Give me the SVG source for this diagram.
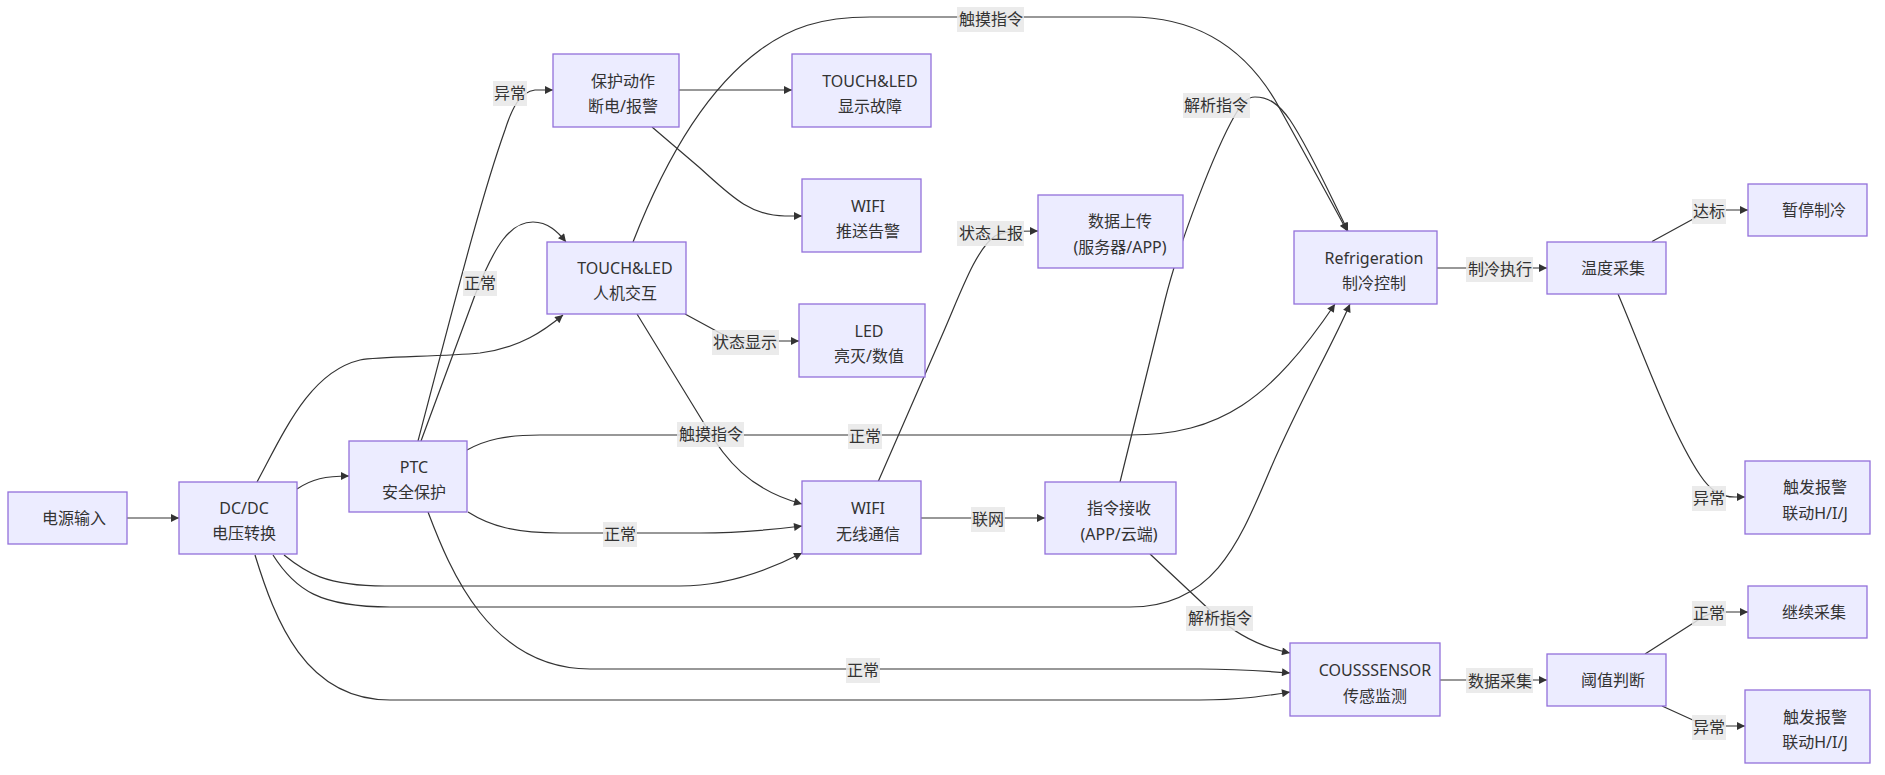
<svg xmlns="http://www.w3.org/2000/svg" width="1885" height="775" viewBox="0 0 1885 775">
<style>
.node rect{fill:#ECECFF;stroke:#9370DB;stroke-width:1.3}
.node text{font-family:"Noto Sans","Noto Sans CJK SC",sans-serif;font-size:16px;fill:#333;text-anchor:middle;dominant-baseline:central}
.edge{fill:none;stroke:#333;stroke-width:1.2;marker-end:url(#arrow)}
.lbl rect{fill:#e8e8e8;fill-opacity:0.85}
.lbl text{font-family:"Noto Sans","Noto Sans CJK SC",sans-serif;font-size:16px;fill:#333;text-anchor:middle;dominant-baseline:central}
</style>
<defs>
<marker id="arrow" viewBox="0 0 10 10" refX="10" refY="5" markerWidth="9" markerHeight="8" markerUnits="userSpaceOnUse" orient="auto">
<path d="M0,0 L10,5 L0,10 z" fill="#333"/>
</marker>
</defs>
<rect width="1885" height="775" fill="#fff"/>
<g id="connectors">
<path class="edge" d="M127,518 L179,518"/>
<path class="edge" d="M297,489 C312,479 325,476 349,476"/>
<path class="edge" d="M257,482 C285,430 310,372 360,360 C380,356 440,357 480,353 C520,348 545,330 563,315"/>
<path class="edge" d="M284,555 C305,572 325,586 385,586 L680,586 C725,586 765,572 802,553"/>
<path class="edge" d="M273,555 C295,590 320,607 390,607 L1130,607 C1215,607 1240,540 1270,470 C1300,400 1330,350 1350,304"/>
<path class="edge" d="M255,555 C275,620 305,700 390,700 L1200,700 C1240,700 1265,696 1290,692"/>
<path class="edge" d="M418,441 C450,320 480,200 505,130 C512,108 520,92 535,90 L553,90"/>
<path class="edge" d="M421,441 L475,295 C495,245 510,222 533,222 C548,222 558,232 566,242"/>
<path class="edge" d="M467,450 C485,440 505,435 540,435 L1130,435 C1220,435 1270,400 1335,304"/>
<path class="edge" d="M468,512 C490,526 515,533 560,533 L700,533 C740,533 770,530 802,526"/>
<path class="edge" d="M428,512 C450,570 490,669 590,669 L1200,669 C1240,669 1265,671 1290,673"/>
<path class="edge" d="M679,90 L792,90"/>
<path class="edge" d="M652,127 L700,168 C730,195 750,216 785,216 L802,216"/>
<path class="edge" d="M633,242 C665,160 705,90 760,50 C790,28 820,17 870,17 L1130,17 C1200,17 1245,50 1275,100 C1300,145 1325,190 1347,231"/>
<path class="edge" d="M685,314 L720,333 C730,339 740,341 755,341 L799,341"/>
<path class="edge" d="M637,314 L705,425 C725,460 750,490 802,504"/>
<path class="edge" d="M878,482 L940,340 C960,295 975,250 995,236 C1005,231 1015,231 1038,231"/>
<path class="edge" d="M921,518 L1045,518"/>
<path class="edge" d="M1120,482 L1165,300 C1180,240 1215,150 1235,115 C1242,103 1247,97 1255,97 C1268,97 1278,103 1290,120 C1310,150 1330,195 1348,231"/>
<path class="edge" d="M1150,554 L1215,615 C1240,638 1265,648 1290,653"/>
<path class="edge" d="M1437,268 L1547,268"/>
<path class="edge" d="M1440,680 L1547,680"/>
<path class="edge" d="M1652,241.5 L1695,218 C1703,213 1712,210 1725,210 L1748,210"/>
<path class="edge" d="M1618,294 C1640,345 1670,430 1700,475 C1710,490 1720,497 1735,497 L1745,497"/>
<path class="edge" d="M1645,654 L1695,622 C1705,615 1712,612 1725,612 L1748,612"/>
<path class="edge" d="M1662,706 L1695,721 C1705,725 1712,726 1725,726 L1745,726"/>
</g>
<g id="edge-labels">
<g class="lbl"><rect x="493" y="81" width="34" height="25"/><text x="510" y="93">异常</text></g>
<g class="lbl"><rect x="463" y="271" width="34" height="25"/><text x="480" y="283">正常</text></g>
<g class="lbl"><rect x="957" y="7" width="67" height="25"/><text x="991" y="19">触摸指令</text></g>
<g class="lbl"><rect x="712" y="330" width="67" height="25"/><text x="745" y="342">状态显示</text></g>
<g class="lbl"><rect x="677" y="422" width="67" height="25"/><text x="711" y="434">触摸指令</text></g>
<g class="lbl"><rect x="848" y="424" width="34" height="25"/><text x="865" y="436">正常</text></g>
<g class="lbl"><rect x="603" y="522" width="34" height="25"/><text x="620" y="534">正常</text></g>
<g class="lbl"><rect x="846" y="658" width="34" height="25"/><text x="863" y="670">正常</text></g>
<g class="lbl"><rect x="957" y="221" width="67" height="25"/><text x="991" y="233">状态上报</text></g>
<g class="lbl"><rect x="971" y="507" width="34" height="25"/><text x="988" y="519">联网</text></g>
<g class="lbl"><rect x="1183" y="93" width="67" height="25"/><text x="1216" y="105">解析指令</text></g>
<g class="lbl"><rect x="1186" y="606" width="67" height="25"/><text x="1220" y="618">解析指令</text></g>
<g class="lbl"><rect x="1466" y="257" width="67" height="25"/><text x="1500" y="269">制冷执行</text></g>
<g class="lbl"><rect x="1466" y="668" width="67" height="25"/><text x="1500" y="681">数据采集</text></g>
<g class="lbl"><rect x="1692" y="199" width="34" height="25"/><text x="1709" y="211">达标</text></g>
<g class="lbl"><rect x="1692" y="486" width="34" height="25"/><text x="1709" y="498">异常</text></g>
<g class="lbl"><rect x="1692" y="601" width="34" height="25"/><text x="1709" y="613">正常</text></g>
<g class="lbl"><rect x="1692" y="715" width="34" height="25"/><text x="1709" y="727">异常</text></g>
</g>
<g id="n_power" class="node"><rect x="8" y="492" width="119" height="52"/><text x="74" y="518">电源输入</text></g>
<g id="n_dcdc" class="node"><rect x="179" y="482" width="118" height="72"/><text x="244" y="508">DC/DC</text><text x="244" y="533">电压转换</text></g>
<g id="n_ptc" class="node"><rect x="349" y="441" width="118" height="71"/><text x="414" y="467">PTC</text><text x="414" y="492">安全保护</text></g>
<g id="n_protect" class="node"><rect x="553" y="54" width="126" height="73"/><text x="623" y="81">保护动作</text><text x="623" y="106">断电/报警</text></g>
<g id="n_touchfault" class="node"><rect x="792" y="54" width="139" height="73"/><text x="870" y="81">TOUCH&amp;LED</text><text x="870" y="106">显示故障</text></g>
<g id="n_wifialarm" class="node"><rect x="802" y="179" width="119" height="73"/><text x="868" y="206">WIFI</text><text x="868" y="231">推送告警</text></g>
<g id="n_touch" class="node"><rect x="547" y="242" width="139" height="72"/><text x="625" y="268">TOUCH&amp;LED</text><text x="625" y="293">人机交互</text></g>
<g id="n_led" class="node"><rect x="799" y="304" width="126" height="73"/><text x="869" y="331">LED</text><text x="869" y="356">亮灭/数值</text></g>
<g id="n_wifi" class="node"><rect x="802" y="481" width="119" height="73"/><text x="868" y="508">WIFI</text><text x="868" y="534">无线通信</text></g>
<g id="n_upload" class="node"><rect x="1038" y="195" width="145" height="73"/><text x="1120" y="221">数据上传</text><text x="1120" y="247">(服务器/APP)</text></g>
<g id="n_cmd" class="node"><rect x="1045" y="482" width="131" height="72"/><text x="1119" y="508">指令接收</text><text x="1119" y="534">(APP/云端)</text></g>
<g id="n_refrig" class="node"><rect x="1294" y="231" width="143" height="73"/><text x="1374" y="258">Refrigeration</text><text x="1374" y="283">制冷控制</text></g>
<g id="n_sensor" class="node"><rect x="1290" y="643" width="150" height="73"/><text x="1375" y="670">COUSSSENSOR</text><text x="1375" y="696">传感监测</text></g>
<g id="n_temp" class="node"><rect x="1547" y="242" width="119" height="52"/><text x="1613" y="268">温度采集</text></g>
<g id="n_pause" class="node"><rect x="1748" y="184" width="119" height="52"/><text x="1814" y="210">暂停制冷</text></g>
<g id="n_alarm1" class="node"><rect x="1745" y="461" width="125" height="73"/><text x="1815" y="487">触发报警</text><text x="1815" y="513">联动H/I/J</text></g>
<g id="n_threshold" class="node"><rect x="1547" y="654" width="119" height="52"/><text x="1613" y="680">阈值判断</text></g>
<g id="n_continue" class="node"><rect x="1748" y="586" width="119" height="52"/><text x="1814" y="612">继续采集</text></g>
<g id="n_alarm2" class="node"><rect x="1745" y="690" width="125" height="73"/><text x="1815" y="717">触发报警</text><text x="1815" y="742">联动H/I/J</text></g>
</svg>
